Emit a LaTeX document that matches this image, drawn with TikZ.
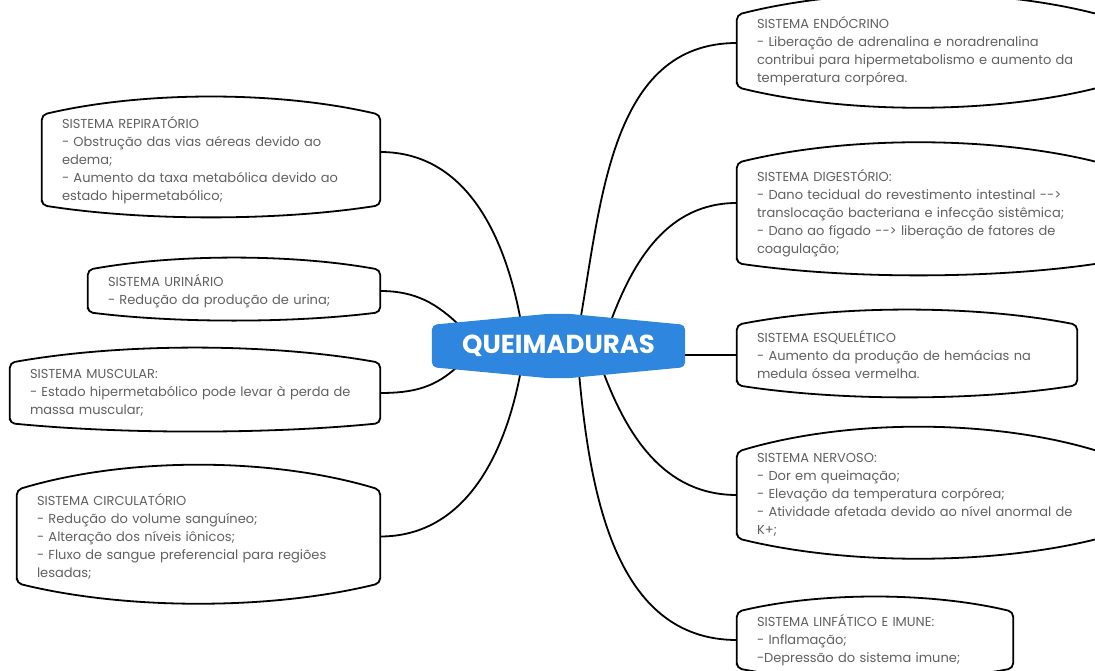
\documentclass[tikz,border=0pt]{standalone}
\usepackage{fontspec}
\setmainfont{Poppins}
\usetikzlibrary{calc,backgrounds}
\definecolor{azulq}{HTML}{2E86DE}
\definecolor{cinza}{HTML}{606060}
\tikzset{
  caixa/.style={inner xsep=20pt, inner ysep=0pt, align=left, text=cinza, font=\fontsize{13}{18}\selectfont},
  borda/.style={line width=1.8pt, rounded corners=5pt},
  ligacao/.style={line width=1.8pt},
  centro/.style={text=white, inner sep=0pt, font=\fontsize{26}{30}\selectfont\bfseries}
}
\newcommand{\contorno}[3]{%
  \draw[borda] (#1.south west) -- (#1.north west)
    .. controls ($(#1.north west)!.3!(#1.north east)+(0,#2)$) and ($(#1.north west)!.7!(#1.north east)+(0,#2)$) .. (#1.north east)
    -- (#1.south east)
    .. controls ($(#1.south west)!.7!(#1.south east)-(0,#3)$) and ($(#1.south west)!.3!(#1.south east)-(0,#3)$) .. (#1.south west) -- cycle;}
\begin{document}
\begin{tikzpicture}[x=1pt,y=1pt]
        \useasboundingbox (0,0) rectangle (1095,670);

        \node[caixa, text width=298pt, minimum height=90pt] (resp) at (211,510) {SISTEMA REPIRATÓRIO\\- Obstrução das vias aéreas devido ao\\edema;\\- Aumento da taxa metabólica devido ao\\estado hipermetabólico;};
        \node[caixa, text width=252pt, minimum height=42pt] (uri) at (234,379) {SISTEMA URINÁRIO\\- Redução da produção de urina;};
        \node[caixa, text width=330pt, minimum height=60pt] (musc) at (195,277) {SISTEMA MUSCULAR:\\- Estado hipermetabólico pode levar à perda de\\massa muscular;};
        \node[caixa, text width=323pt, minimum height=93pt] (circ) at (198.5,133.5) {SISTEMA CIRCULATÓRIO\\- Redução do volume sanguíneo;\\- Alteração dos níveis iônicos;\\- Fluxo de sangue preferencial para regiões\\lesadas;};
        \contorno{resp}{24}{16}
        \contorno{uri}{16}{11}
        \contorno{musc}{20}{11}
        \contorno{circ}{33}{27}

        \node[caixa, text width=323pt, minimum height=72pt] (endo) at (918.5,619) {SISTEMA ENDÓCRINO\\- Liberação de adrenalina e noradrenalina\\contribui para hipermetabolismo e aumento da\\temperatura corpórea.};
        \node[caixa, text width=323pt, minimum height=100pt] (dig) at (918.5,457) {SISTEMA DIGESTÓRIO:\\- Dano tecidual do revestimento intestinal -{}-{}>\\translocação bacteriana e infecção sistêmica;\\- Dano ao fígado -{}-{}> liberação de fatores de\\coagulação;};
        \node[caixa, text width=300pt, minimum height=60pt] (esq) at (907,315) {SISTEMA ESQUELÉTICO\\- Aumento da produção de hemácias na\\medula óssea vermelha.};
        \node[caixa, text width=323pt, minimum height=86pt] (nerv) at (918.5,175) {SISTEMA NERVOSO:\\- Dor em queimação;\\- Elevação da temperatura corpórea;\\- Atividade afetada devido ao nível anormal de\\K+;};
        \node[caixa, text width=236pt, minimum height=56pt] (linf) at (875,30) {SISTEMA LINFÁTICO E IMUNE:\\- Inflamação;\\-Depressão do sistema imune;};
        \contorno{endo}{28}{27}
        \contorno{dig}{27}{16}
        \contorno{esq}{20}{16}
        \contorno{nerv}{33}{27}
        \contorno{linf}{20}{16}

        \node[centro, minimum width=253pt, minimum height=42pt] (q) at (558.5,324) {QUEIMADURAS};
        \coordinate (qresp) at ($(q.north)+(-37,0)$);
        \coordinate (quri) at ($(q.north west)+(30,-3)$);
        \coordinate (qmusc) at ($(q.south west)+(28,3)$);
        \coordinate (qcirc) at ($(q.south)+(-37,0)$);
        \coordinate (qendo) at ($(q.north)+(21,0)$);
        \coordinate (qdig) at ($(q.north)+(51,0)$);
        \coordinate (qnerv) at ($(q.south)+(43,0)$);
        \coordinate (qlinf) at ($(q.south)+(20,0)$);

        \begin{pgfonlayer}{background}
        \draw[ligacao] ($(resp.east)+(0,8)$) to[out=0,in=100] (qresp);
        \draw[ligacao] (uri.east) to[out=0,in=135] (quri);
        \draw[ligacao] (musc.east) to[out=0,in=-135] (qmusc);
        \draw[ligacao] (circ.east) to[out=0,in=-100] (qcirc);
        \draw[ligacao] ($(endo.west)+(0,8)$) to[out=180,in=80] (qendo);
        \draw[ligacao] ($(dig.west)+(0,10)$) to[out=180,in=70] (qdig);
        \draw[ligacao] (esq.west) -- (esq.west -| q.east);
        \draw[ligacao] (nerv.west) to[out=180,in=-70] (qnerv);
        \draw[ligacao] (linf.west) to[out=180,in=-85] (qlinf);
        \fill[azulq, rounded corners=5pt] (q.south west) -- (q.north west) -- ($(q.north)+(-10,11)$) -- ($(q.north)+(10,11)$) -- (q.north east) -- (q.south east) -- ($(q.south)+(10,-11)$) -- ($(q.south)+(-10,-11)$) -- cycle;
        \end{pgfonlayer}
\end{tikzpicture}
\end{document}
